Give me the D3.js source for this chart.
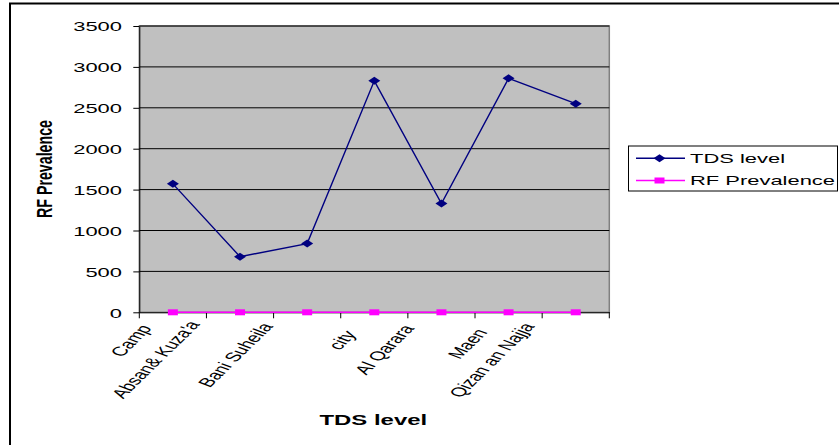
<!DOCTYPE html>
<html>
<head>
<meta charset="utf-8">
<script src="https://cdn.jsdelivr.net/npm/d3@7"></script>
<style>
  html, body { margin: 0; padding: 0; background: #fff; }
  svg { display: block; }
  text { font-family: Arial, "Liberation Sans", sans-serif; fill: #000; }
</style>
</head>
<body>
<svg id="chart" width="839" height="445"></svg>
<script>
// ---- data ----
const categories = ["Camp", "Absan& Kuza'a", "Bani Suheila", "city", "Al Qarara", "Maen", "Qizan an Najja"];
const tdsLevel = [1570, 680, 840, 2830, 1330, 2860, 2550];
const rfPrevalence = [0, 0, 0, 0, 0, 0, 0];
const yTicks = [0, 500, 1000, 1500, 2000, 2500, 3000, 3500];
const seriesNames = ["TDS level", "RF Prevalence"];
const xTitle = "TDS level";
const yTitle = "RF Prevalence";

// ---- layout ----
const SX = 1.65;                 // horizontal text stretch used throughout the chart
const plot = { left: 139.3, right: 609.3, top: 26, bottom: 312.3 };
// per-label offset of the rotated category label end from its tick
const labelNudge = [[13, 16], [-6, 12], [0, 14], [16, 22], [7, 16], [13, 20], [-7, 14]];

const svg = d3.select("#chart");

// outer chart frame
svg.append("rect")
  .attr("x", 10).attr("y", 3.5).attr("width", 900).attr("height", 600)
  .attr("fill", "none").attr("stroke", "#000").attr("stroke-width", 2);

const x = d3.scaleBand().domain(categories).range([plot.left, plot.right]);
const y = d3.scaleLinear().domain([0, 3500]).range([plot.bottom, plot.top]);
const cx = d => x(d) + x.bandwidth() / 2;

// plot background
svg.append("rect")
  .attr("x", plot.left).attr("y", plot.top)
  .attr("width", plot.right - plot.left).attr("height", plot.bottom - plot.top)
  .attr("fill", "#c0c0c0").attr("stroke", "#808080").attr("stroke-width", 1.5);

// horizontal gridlines
svg.append("g").selectAll("line").data(yTicks.filter(t => t > 0)).join("line")
  .attr("x1", plot.left).attr("x2", plot.right)
  .attr("y1", d => y(d)).attr("y2", d => y(d))
  .attr("stroke", "#000").attr("stroke-width", 1);

// y axis
const yAxis = svg.append("g")
  .attr("transform", `translate(${plot.left},0)`)
  .call(d3.axisLeft(y).tickValues(yTicks).tickSize(6).tickSizeOuter(0).tickFormat(d3.format("d")));
yAxis.select(".domain").attr("stroke", "#000");
yAxis.selectAll(".tick line").attr("stroke", "#000");
yAxis.selectAll(".tick text")
  .attr("x", -10.5).attr("dy", "0.36em")
  .attr("transform", `scale(${SX},1)`)
  .style("font-size", "13.3px").style("font-family", "Arial, 'Liberation Sans', sans-serif");

// x axis line and boundary ticks
const xAxis = svg.append("g")
  .attr("transform", `translate(0,${plot.bottom})`)
  .call(d3.axisBottom(x).tickSize(0).tickFormat(""));
xAxis.select(".domain").attr("stroke", "#000");
xAxis.selectAll(".tick").remove();
const bounds = categories.map(c => x(c)).concat([x.range()[1]]);
xAxis.selectAll("line.bound").data(bounds).join("line")
  .attr("class", "bound")
  .attr("x1", d => d).attr("x2", d => d)
  .attr("y1", 0).attr("y2", 6)
  .attr("stroke", "#000");

// rotated category labels, clipped just under the axis
svg.append("clipPath").attr("id", "lblclip")
  .append("rect").attr("x", 0).attr("y", 318.5).attr("width", 839).attr("height", 130);
svg.append("g").attr("clip-path", "url(#lblclip)")
  .selectAll("g").data(categories).join("g")
  .attr("transform", (d, i) =>
    `translate(${x(d) + labelNudge[i][0]},${plot.bottom + labelNudge[i][1]}) scale(${SX},1) rotate(-58)`)
  .append("text")
  .attr("text-anchor", "end")
  .style("font-size", "13px")
  .text(d => d);

// axis titles
svg.append("text")
  .attr("transform", `translate(${(plot.left + plot.right) / 2 - 1},425) scale(${SX},1)`)
  .attr("text-anchor", "middle")
  .style("font-size", "14.5px").style("font-weight", "bold")
  .text(xTitle);

svg.append("text")
  .attr("transform", `translate(52,169) scale(${SX},1) rotate(-90)`)
  .attr("text-anchor", "middle")
  .attr("textLength", 98).attr("lengthAdjust", "spacingAndGlyphs")
  .style("font-size", "13px").style("font-weight", "bold")
  .text(yTitle);

// marker shapes
const diamond = (px, py) => `M${px - 6},${py}L${px},${py - 4}L${px + 6},${py}L${px},${py + 4}Z`;

// RF Prevalence series
const line = d3.line().x((d, i) => cx(categories[i])).y(d => y(d));
svg.append("path").datum(rfPrevalence)
  .attr("d", line).attr("fill", "none").attr("stroke", "#ff00ff").attr("stroke-width", 1.5);
svg.append("g").selectAll("rect").data(rfPrevalence).join("rect")
  .attr("x", (d, i) => cx(categories[i]) - 5).attr("y", d => y(d) - 3)
  .attr("width", 10).attr("height", 6).attr("fill", "#ff00ff");

// TDS level series
svg.append("path").datum(tdsLevel)
  .attr("d", line).attr("fill", "none").attr("stroke", "#000080").attr("stroke-width", 1.4);
svg.append("g").selectAll("path").data(tdsLevel).join("path")
  .attr("d", (d, i) => diamond(cx(categories[i]), y(d)))
  .attr("fill", "#000080");

// legend
const lg = svg.append("g");
lg.append("rect").attr("x", 628.5).attr("y", 146).attr("width", 209).attr("height", 45)
  .attr("fill", "#fff").attr("stroke", "#000").attr("stroke-width", 1);
const legendRows = [
  { name: seriesNames[0], color: "#000080", ly: 158.3, ty: 163.3, mark: "diamond" },
  { name: seriesNames[1], color: "#ff00ff", ly: 180.5, ty: 185.3, mark: "square" }
];
legendRows.forEach(r => {
  lg.append("line").attr("x1", 636).attr("x2", 685).attr("y1", r.ly).attr("y2", r.ly)
    .attr("stroke", r.color).attr("stroke-width", 1.4);
  if (r.mark === "diamond") {
    lg.append("path").attr("d", diamond(659.5, r.ly)).attr("fill", r.color);
  } else {
    lg.append("rect").attr("x", 654.5).attr("y", r.ly - 3).attr("width", 10).attr("height", 6).attr("fill", r.color);
  }
  lg.append("text")
    .attr("transform", `translate(690,${r.ty}) scale(${SX},1)`)
    .style("font-size", "13.3px")
    .text(r.name);
});
</script>
</body>
</html>
